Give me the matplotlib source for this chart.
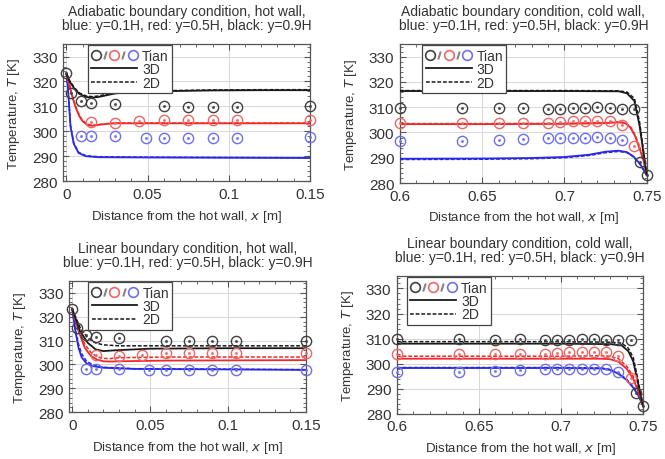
import matplotlib
matplotlib.use("Agg")
import matplotlib.pyplot as plt
from matplotlib.lines import Line2D
from matplotlib.legend_handler import HandlerTuple
from matplotlib.ticker import MultipleLocator, AutoMinorLocator, FuncFormatter

plt.rcParams['font.family'] = ['Liberation Sans', 'DejaVu Sans']

# Tian experiment, hot wall side
hot_x_black = [0, 0.003, 0.009, 0.015, 0.03, 0.06, 0.075, 0.09, 0.105, 0.15]
hot_T_black = [323.2, 315.3, 312.3, 311.4, 311.0, 310.0, 309.9, 309.9, 309.8, 310.0]
hot_x_red = [0.015, 0.03, 0.045, 0.06, 0.075, 0.09, 0.105, 0.15]
hot_T_red = [303.8, 303.5, 304.0, 304.6, 304.6, 304.6, 304.6, 304.6]
hot_x_blue = [0.009, 0.015, 0.03, 0.049, 0.06, 0.075, 0.09, 0.105, 0.15]
hot_T_blue = [298.0, 298.0, 298.0, 297.5, 297.5, 297.5, 297.5, 297.5, 297.8]

# Tian experiment, cold wall side
cold_x_black = [0.6, 0.6375, 0.66, 0.675, 0.69, 0.6975, 0.705, 0.7125, 0.72, 0.7275, 0.735, 0.7425, 0.746, 0.75]
cold_T_black = [309.8, 309.8, 309.5, 309.8, 309.4, 309.4, 309.5, 309.8, 310.0, 309.6, 309.4, 309.4, 288.5, 283.2]
cold_x_red = [0.6, 0.6375, 0.66, 0.675, 0.69, 0.6975, 0.705, 0.7125, 0.72, 0.7275, 0.735, 0.7425]
cold_T_red = [303.7, 303.7, 303.7, 303.7, 303.7, 304.2, 304.5, 304.5, 304.5, 304.5, 303.0, 294.5]
cold_x_blue = [0.6, 0.6375, 0.66, 0.675, 0.69, 0.6975, 0.705, 0.7125, 0.72, 0.7275, 0.735]
cold_T_blue = [296.8, 296.8, 297.0, 297.5, 298.0, 298.0, 298.0, 298.0, 298.1, 298.0, 296.9]

# adiabatic, hot wall (3D / 2D)
ah_x_black = [0, 0.002, 0.005, 0.008, 0.012, 0.016, 0.02, 0.025, 0.03, 0.04, 0.06, 0.09, 0.12, 0.15]
ah_3d_black = [323.2, 320.0, 317.0, 315.0, 313.8, 313.5, 313.8, 314.5, 315.2, 315.8, 316.1, 316.4, 316.5, 316.5]
ah_2d_black = [323.2, 320.3, 317.4, 315.4, 314.2, 313.9, 314.2, 314.9, 315.5, 316.0, 316.3, 316.6, 316.7, 316.7]
ah_x_red = [0, 0.002, 0.004, 0.006, 0.008, 0.01, 0.013, 0.016, 0.02, 0.025, 0.03, 0.05, 0.1, 0.15]
ah_3d_red = [323.2, 318.0, 313.0, 309.0, 306.0, 304.0, 302.5, 302.2, 302.6, 303.0, 303.2, 303.2, 303.2, 303.2]
ah_2d_red = [323.2, 318.4, 313.5, 309.5, 306.4, 304.3, 302.8, 302.4, 302.7, 303.1, 303.3, 303.3, 303.3, 303.3]
ah_x_blue = [0, 0.001, 0.0025, 0.0045, 0.0075, 0.012, 0.02, 0.05, 0.1, 0.15]
ah_3d_blue = [323.2, 317.0, 302.0, 295.0, 291.3, 290.0, 289.6, 289.5, 289.4, 289.3]
ah_2d_blue = [323.2, 317.3, 302.5, 295.4, 291.6, 290.2, 289.8, 289.6, 289.5, 289.4]

# adiabatic, cold wall
ac_x_black = [0.6, 0.65, 0.7, 0.733, 0.738, 0.7425, 0.7457, 0.7477, 0.75]
ac_3d_black = [316.4, 316.4, 316.4, 316.3, 315.5, 312.5, 302.5, 293.3, 283.2]
ac_2d_black = [316.6, 316.6, 316.6, 316.5, 316.0, 313.5, 304.0, 294.5, 283.2]
ac_x_red = [0.6, 0.65, 0.7, 0.725, 0.733, 0.737, 0.74, 0.743, 0.746, 0.748, 0.75]
ac_3d_red = [303.3, 303.3, 303.4, 303.7, 304.0, 303.7, 302.0, 298.5, 293.0, 289.0, 283.2]
ac_2d_red = [303.5, 303.5, 303.6, 303.9, 304.2, 303.9, 302.4, 299.0, 293.5, 289.5, 283.2]
ac_x_blue = [0.6, 0.65, 0.68, 0.7, 0.715, 0.725, 0.733, 0.738, 0.742, 0.746, 0.75]
ac_3d_blue = [289.6, 289.7, 289.9, 290.3, 291.2, 292.4, 292.8, 292.2, 290.5, 287.5, 283.2]
ac_2d_blue = [289.3, 289.4, 289.6, 290.0, 290.9, 292.0, 292.5, 292.0, 290.3, 287.3, 283.2]

# linear, hot wall
lh_x_black = [0, 0.005, 0.01, 0.015, 0.02, 0.03, 0.05, 0.1, 0.15]
lh_3d_black = [323.2, 314.0, 309.0, 306.3, 305.6, 306.0, 306.6, 306.8, 306.8]
lh_2d_black = [323.2, 315.5, 311.0, 309.0, 308.2, 307.8, 307.8, 307.8, 307.8]
lh_x_red = [0, 0.004, 0.008, 0.012, 0.016, 0.02, 0.025, 0.03, 0.06, 0.15]
lh_3d_red = [323.2, 314.0, 307.0, 303.5, 302.0, 301.3, 301.2, 301.3, 301.6, 301.8]
lh_2d_red = [323.2, 315.0, 308.5, 305.0, 303.2, 302.5, 302.5, 302.8, 303.1, 303.1]
lh_x_blue = [0, 0.002, 0.004, 0.006, 0.009, 0.013, 0.02, 0.04, 0.1, 0.15]
lh_3d_blue = [323.2, 314.0, 307.0, 303.0, 300.5, 299.3, 298.6, 298.1, 297.9, 297.7]
lh_2d_blue = [323.2, 315.0, 308.5, 304.5, 301.5, 299.8, 298.8, 298.2, 298.0, 297.8]

# linear, cold wall
lc_x_black = [0.6, 0.65, 0.7, 0.73, 0.737, 0.741, 0.744, 0.746, 0.748, 0.75]
lc_3d_black = [308.0, 308.0, 308.0, 307.8, 307.3, 305.0, 301.0, 295.0, 289.0, 283.2]
lc_2d_black = [308.8, 308.8, 308.8, 308.6, 308.2, 306.2, 302.5, 296.5, 290.0, 283.2]
lc_x_red = [0.6, 0.65, 0.7, 0.725, 0.73, 0.735, 0.74, 0.744, 0.747, 0.75]
lc_3d_red = [302.0, 302.0, 302.0, 302.0, 301.8, 300.8, 298.0, 294.0, 289.0, 283.2]
lc_2d_red = [303.0, 303.0, 303.0, 303.2, 303.0, 302.0, 299.0, 295.0, 290.0, 283.2]
lc_x_blue = [0.6, 0.65, 0.7, 0.725, 0.73, 0.735, 0.74, 0.744, 0.747, 0.75]
lc_3d_blue = [298.3, 298.3, 298.3, 298.1, 297.5, 296.0, 293.5, 290.5, 287.5, 283.2]
lc_2d_blue = [298.5, 298.5, 298.5, 298.3, 297.7, 296.3, 293.8, 290.8, 287.8, 283.2]

titles = [
    "Adiabatic boundary condition, hot wall,\nblue: y=0.1H, red: y=0.5H, black: y=0.9H",
    "Adiabatic boundary condition, cold wall,\nblue: y=0.1H, red: y=0.5H, black: y=0.9H",
    "Linear boundary condition, hot wall,\nblue: y=0.1H, red: y=0.5H, black: y=0.9H",
    "Linear boundary condition, cold wall,\nblue: y=0.1H, red: y=0.5H, black: y=0.9H",
]

LINE = {'black': '#1a1a1a', 'red': '#f02828', 'blue': '#2828e6'}
MARK = {'black': '#404040', 'red': '#f06464', 'blue': '#6e6ef0'}


def tian(ax, x, T, c):
    ax.plot(x, T, 'o', ms=7.4, mfc='none', mec=MARK[c], mew=1.0, clip_on=False, zorder=5)
    ax.plot(x, T, 'o', ms=1.2, color=MARK[c], alpha=0.8, clip_on=False, zorder=5)


def curves(ax, x, t3, t2, c):
    ax.plot(x, t3, '-', color=LINE[c], lw=1.3, zorder=4)
    ax.plot(x, t2, '--', color=LINE[c], lw=1.1, dashes=(2.5, 1.2), zorder=4)


fig = plt.figure(figsize=(6.65, 4.6), dpi=100)
boxes = [
    [0.095, 0.604, 0.371, 0.298],
    [0.6015, 0.600, 0.371, 0.302],
    [0.104, 0.102, 0.356, 0.285],
    [0.597, 0.098, 0.370, 0.300],
]
legend_x = [0.1, 0.09, 0.08, 0.04]
axes = [fig.add_axes(b) for b in boxes]

hot_panels = [(axes[0], ah_x_black, ah_3d_black, ah_2d_black, ah_x_red, ah_3d_red, ah_2d_red,
               ah_x_blue, ah_3d_blue, ah_2d_blue),
              (axes[2], lh_x_black, lh_3d_black, lh_2d_black, lh_x_red, lh_3d_red, lh_2d_red,
               lh_x_blue, lh_3d_blue, lh_2d_blue)]
cold_panels = [(axes[1], ac_x_black, ac_3d_black, ac_2d_black, ac_x_red, ac_3d_red, ac_2d_red,
                ac_x_blue, ac_3d_blue, ac_2d_blue),
               (axes[3], lc_x_black, lc_3d_black, lc_2d_black, lc_x_red, lc_3d_red, lc_2d_red,
                lc_x_blue, lc_3d_blue, lc_2d_blue)]

for ax, xk, k3, k2, xr, r3, r2, xb, b3, b2 in hot_panels:
    curves(ax, xb, b3, b2, 'blue')
    curves(ax, xr, r3, r2, 'red')
    curves(ax, xk, k3, k2, 'black')
    tian(ax, hot_x_blue, hot_T_blue, 'blue')
    tian(ax, hot_x_red, hot_T_red, 'red')
    tian(ax, hot_x_black, hot_T_black, 'black')
    ax.set_xlim(-0.002, 0.15)
    ax.xaxis.set_major_locator(MultipleLocator(0.05))

for ax, xk, k3, k2, xr, r3, r2, xb, b3, b2 in cold_panels:
    curves(ax, xb, b3, b2, 'blue')
    curves(ax, xr, r3, r2, 'red')
    curves(ax, xk, k3, k2, 'black')
    tian(ax, cold_x_blue, cold_T_blue, 'blue')
    tian(ax, cold_x_red, cold_T_red, 'red')
    tian(ax, cold_x_black, cold_T_black, 'black')
    ax.set_xlim(0.6, 0.75)
    ax.xaxis.set_major_locator(MultipleLocator(0.05))

for i, ax in enumerate(axes):
    ax.set_ylim(280, 335)
    ax.yaxis.set_major_locator(MultipleLocator(10))
    ax.xaxis.set_minor_locator(AutoMinorLocator(5))
    ax.yaxis.set_minor_locator(AutoMinorLocator(5))
    ax.xaxis.set_major_formatter(FuncFormatter(lambda v, p: f'{v:g}'))
    ax.grid(True, which='major', color='#d8d8d8', lw=0.7)
    ax.set_axisbelow(True)
    ax.tick_params(which='both', direction='in', top=True, right=True, colors='#555555',
                   labelcolor='#333333', labelsize=11)
    ax.tick_params(which='major', length=4, pad=4)
    ax.tick_params(which='minor', length=2)
    for s in ax.spines.values():
        s.set_color('#555555')
        s.set_linewidth(0.9)
    ax.set_xlabel("Distance from the hot wall, $x$ [m]", fontsize=9.5, color='#333333', labelpad=5)
    ax.set_ylabel("Temperature, $T$ [K]", fontsize=9.5, color='#333333', labelpad=7)
    ax.set_title(titles[i], fontsize=10, color='#333333', linespacing=1.0, pad=11)

    tian_h = (Line2D([], [], marker='o', ls='none', ms=7, mfc='none', mec=MARK['black'], mew=1.2),
              Line2D([], [], marker='$/$', ls='none', ms=5, color='#888888'),
              Line2D([], [], marker='o', ls='none', ms=7, mfc='none', mec=MARK['red'], mew=1.2),
              Line2D([], [], marker='$/$', ls='none', ms=5, color='#888888'),
              Line2D([], [], marker='o', ls='none', ms=7, mfc='none', mec=MARK['blue'], mew=1.2))
    h3 = Line2D([], [], color='#1a1a1a', lw=1.3)
    h2 = Line2D([], [], color='#1a1a1a', lw=1.1, ls='--', dashes=(2.5, 1.2))
    leg = ax.legend([tian_h, h3, h2], ["Tian", "3D", "2D"],
                    handler_map={tuple: HandlerTuple(ndivide=None, pad=0)},
                    loc='upper left', bbox_to_anchor=(legend_x[i], 0.99), borderaxespad=0,
                    fontsize=10, handlelength=3.3, handletextpad=0.35, labelspacing=-0.05,
                    borderpad=0.25, fancybox=False, framealpha=1, edgecolor='#444444')
    leg.get_frame().set_linewidth(0.9)
    for t in leg.get_texts():
        t.set_color('#333333')

fig.savefig("out.png", dpi=100)
